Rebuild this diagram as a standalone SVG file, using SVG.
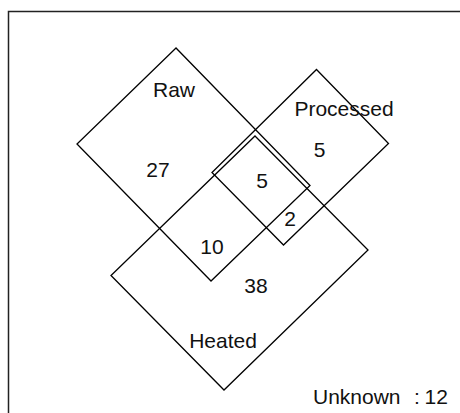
<svg xmlns="http://www.w3.org/2000/svg" width="460" height="413" viewBox="0 0 460 413">
<style>
.set{fill:none;stroke:#000;stroke-width:1.3;stroke-linejoin:miter}
.frame{fill:none;stroke:#222;stroke-width:1.5}
text{font-family:"Liberation Sans",Arial,sans-serif;font-size:21px;fill:#111}
.c{text-anchor:middle}
</style>
<rect width="460" height="413" fill="#fff"/>
<g id="frame">
<path class="frame" d="M8.5,413 V11.5 H460"/>
</g>
<g id="raw">
<polygon class="set" points="176,48 77,144 211,281 310,185.5"/>
<text class="c" x="174" y="96.5">Raw</text>
</g>
<g id="processed">
<polygon class="set" points="316.5,69.5 388.5,143.5 283.5,245 212,172.5"/>
<text class="c" x="344" y="116">Processed</text>
</g>
<g id="heated">
<polygon class="set" points="255,136 368,250 224,390 111,275.5"/>
<text class="c" x="223" y="348">Heated</text>
</g>
<g id="counts">
<text class="c" x="158" y="177">27</text>
<text class="c" x="319.5" y="156.5">5</text>
<text class="c" x="262" y="187.5">5</text>
<text class="c" x="290" y="225.5">2</text>
<text class="c" x="212" y="254">10</text>
<text class="c" x="256" y="293">38</text>
</g>
<g id="unknown">
<text x="313" y="404">Unknown <tspan x="414">:</tspan> <tspan x="424.5">12</tspan></text>
</g>
</svg>
